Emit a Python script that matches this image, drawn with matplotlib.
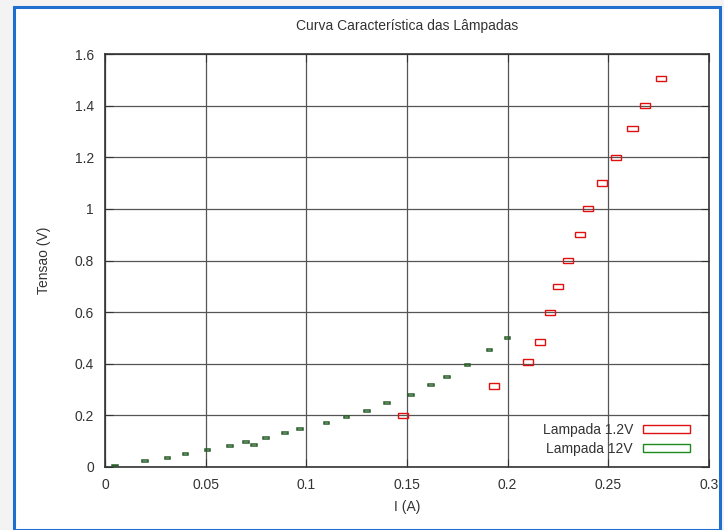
import matplotlib
matplotlib.use('Agg')
import matplotlib.pyplot as plt
from matplotlib.patches import Rectangle
import numpy as np

plt.rcParams['font.family'] = ['Liberation Sans Narrow', 'Liberation Sans', 'DejaVu Sans']

# lampada 1.2V: corrente (A), tensao (V)
i_12 = [0.148, 0.193, 0.210, 0.216, 0.221, 0.225, 0.230, 0.236, 0.240, 0.247, 0.254, 0.262, 0.268, 0.276]
v_12 = [0.20, 0.314, 0.407, 0.484, 0.60, 0.70, 0.80, 0.90, 1.00, 1.10, 1.20, 1.31, 1.40, 1.505]

# lampada 12V
i_120 = [0.005, 0.020, 0.031, 0.040, 0.051, 0.062, 0.070, 0.074, 0.080, 0.0895, 0.097,
         0.110, 0.120, 0.130, 0.140, 0.152, 0.162, 0.170, 0.180, 0.191, 0.200]
v_120 = [0.005, 0.023, 0.035, 0.050, 0.066, 0.081, 0.097, 0.085, 0.112, 0.132, 0.147,
         0.170, 0.194, 0.217, 0.248, 0.279, 0.318, 0.349, 0.395, 0.453, 0.500]

# incertezas (meia largura das caixas)
di_12, dv_12 = 0.0025, 0.010
di_120, dv_120 = 0.0014, 0.003

red = '#e01010'
green = '#1a8a1a'

fig = plt.figure(figsize=(7.24, 5.30), dpi=100)
fig.patch.set_facecolor('#f3f3f3')
fig.patches.append(Rectangle((14/724, 0), 706/724, 1 - 7/530, transform=fig.transFigure,
                             facecolor='white', edgecolor='#1f6fd0', linewidth=2.2, zorder=-1))

ax = fig.add_axes([105/724, 63/530, 604/724, 413/530])

for x, y in zip(i_12, v_12):
    ax.add_patch(Rectangle((x - di_12, y - dv_12), 2*di_12, 2*dv_12,
                           facecolor='none', edgecolor=red, linewidth=1.0, zorder=3))
for x, y in zip(i_120, v_120):
    ax.add_patch(Rectangle((x - di_120, y - dv_120), 2*di_120, 2*dv_120,
                           facecolor='none', edgecolor='#2a5e2a', linewidth=1.1, zorder=3))

ax.set_xlim(0, 0.3)
ax.set_ylim(0, 1.6)
ax.set_xticks(np.arange(0, 0.31, 0.05))
ax.set_xticklabels(['0', '0.05', '0.1', '0.15', '0.2', '0.25', '0.3'])
ax.set_yticks(np.arange(0, 1.61, 0.2))
ax.set_yticklabels(['0', '0.2', '0.4', '0.6', '0.8', '1', '1.2', '1.4', '1.6'])
ax.grid(True, color='#555555', linewidth=0.9)
ax.set_axisbelow(True)
ax.tick_params(direction='in', length=6, top=True, right=True, labelsize=10,
               colors='#333333', pad=8)
for s in ax.spines.values():
    s.set_color('#333333')
    s.set_linewidth(1.2)

ax.set_title('Curva Característica das Lâmpadas', fontsize=10, color='#333333', pad=17)
ax.set_xlabel('I (A)', fontsize=10, color='#333333', labelpad=6)
ax.set_ylabel('Tensao (V)', fontsize=10, color='#333333', labelpad=17)

handles = [Rectangle((0, 0), 1, 1, facecolor='none', edgecolor=red, linewidth=1.0),
           Rectangle((0, 0), 1, 1, facecolor='none', edgecolor=green, linewidth=1.0)]
leg = ax.legend(handles, ['Lampada 1.2V', 'Lampada 12V'], loc='lower right',
                markerfirst=False, frameon=False, fontsize=10, handlelength=3.4,
                handleheight=0.55, labelspacing=0.35, borderaxespad=0.5,
                borderpad=0.3, handletextpad=0.7, bbox_to_anchor=(0.987, 0.0))
for t in leg.get_texts():
    t.set_color('#333333')

fig.savefig('out.png', dpi=100, facecolor=fig.get_facecolor())
